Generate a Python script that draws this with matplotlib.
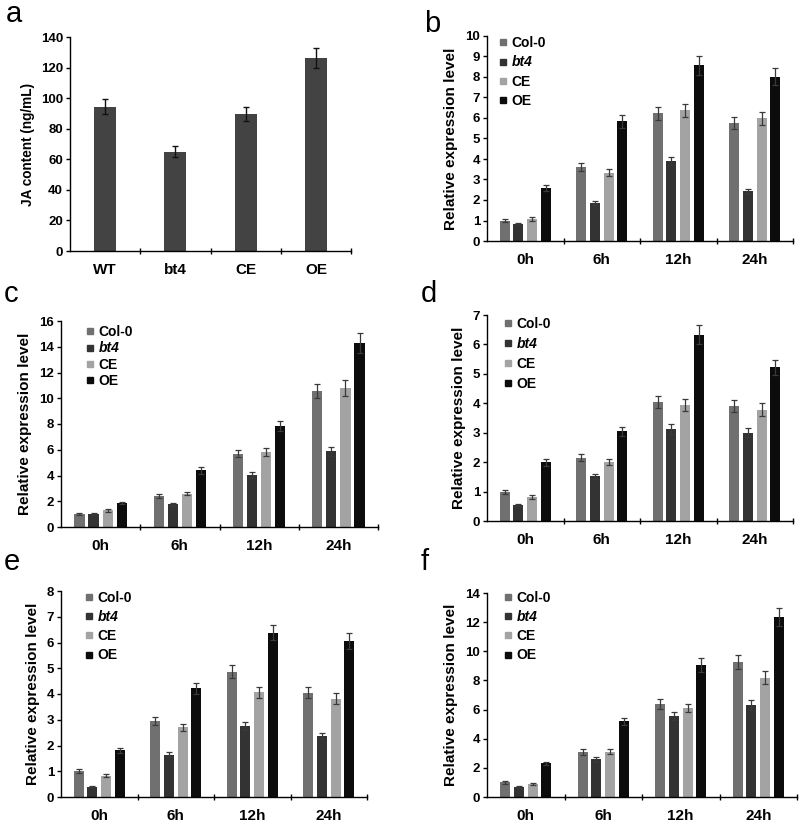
import matplotlib
matplotlib.use("Agg")
import matplotlib.pyplot as plt
import numpy as np
from matplotlib.lines import Line2D

plt.rcParams['font.family'] = ['Liberation Sans', 'DejaVu Sans']
plt.rcParams['font.weight'] = 'bold'

# ---- data ----
ja_labels = ["WT", "bt4", "CE", "OE"]
ja_values = [94.5, 65, 89.5, 126]
ja_errors = [5, 3.5, 4.5, 6.5]

timepoints = ["0h", "6h", "12h", "24h"]
genotypes = ["Col-0", "bt4", "CE", "OE"]

b_vals = [[1.0, 3.62, 6.22, 5.75], [0.82, 1.85, 3.9, 2.43], [1.08, 3.33, 6.37, 5.98], [2.6, 5.83, 8.57, 8.02]]
b_errs = [[0.08, 0.2, 0.33, 0.28], [0.05, 0.1, 0.2, 0.12], [0.08, 0.18, 0.33, 0.33], [0.15, 0.3, 0.45, 0.4]]

c_vals = [[1.0, 2.4, 5.7, 10.55], [1.0, 1.75, 4.05, 5.9], [1.3, 2.6, 5.85, 10.8], [1.85, 4.4, 7.85, 14.3]]
c_errs = [[0.07, 0.15, 0.3, 0.55], [0.07, 0.12, 0.25, 0.35], [0.12, 0.15, 0.3, 0.6], [0.1, 0.25, 0.4, 0.75]]

d_vals = [[1.0, 2.15, 4.05, 3.9], [0.55, 1.52, 3.12, 3.0], [0.82, 2.0, 3.95, 3.78], [2.0, 3.05, 6.33, 5.22]]
d_errs = [[0.07, 0.12, 0.2, 0.2], [0.03, 0.08, 0.17, 0.15], [0.06, 0.1, 0.2, 0.22], [0.12, 0.15, 0.32, 0.25]]

e_vals = [[1.0, 2.95, 4.87, 4.05], [0.4, 1.65, 2.77, 2.38], [0.83, 2.7, 4.07, 3.82], [1.82, 4.22, 6.38, 6.05]]
e_errs = [[0.07, 0.15, 0.25, 0.22], [0.03, 0.1, 0.15, 0.12], [0.05, 0.13, 0.22, 0.22], [0.1, 0.22, 0.3, 0.3]]

f_vals = [[1.0, 3.1, 6.4, 9.25], [0.68, 2.6, 5.55, 6.3], [0.9, 3.1, 6.1, 8.2], [2.3, 5.2, 9.05, 12.35]]
f_errs = [[0.08, 0.2, 0.33, 0.48], [0.06, 0.17, 0.25, 0.35], [0.06, 0.18, 0.3, 0.43], [0.12, 0.25, 0.5, 0.6]]

colors = ["#707070", "#333333", "#a3a3a3", "#0c0c0c"]

W, H = 800, 823
fig = plt.figure(figsize=(8, 8.23), dpi=100)


def add_ax(left, right, top, bottom):
    return fig.add_axes([left / W, (H - bottom) / H, (right - left) / W, (bottom - top) / H])


def style(ax, ymax, ystep, xsize=11):
    ax.spines['top'].set_visible(False)
    ax.spines['right'].set_visible(False)
    ax.spines['left'].set_linewidth(1.0)
    ax.spines['bottom'].set_linewidth(1.0)
    ax.set_xlim(-0.5, 3.5)
    ax.set_ylim(0, ymax)
    ax.set_yticks(np.arange(0, ymax + 0.001, ystep))
    ax.set_xticks(range(4))
    ax.tick_params(axis='x', which='major', length=0, pad=9, labelsize=xsize)
    ax.set_xticks([0.5, 1.5, 2.5, 3.5], minor=True)
    ax.tick_params(axis='x', which='minor', length=4, direction='inout', width=1)
    ax.tick_params(axis='y', length=3, width=1, labelsize=9.5, pad=2)
    for t in ax.get_yticklabels() + ax.get_xticklabels():
        t.set_fontweight('bold')


def panel_letter(letter, x, baseline):
    fig.text(x / W, 1 - baseline / H, letter, fontsize=21, fontweight='normal', va='baseline', ha='left')


# ---- panel a ----
ax = add_ax(70, 351, 37, 251)
x = np.arange(4)
ax.bar(x, ja_values, width=0.31, color="#434343", zorder=2)
ax.errorbar(x, ja_values, yerr=ja_errors, fmt='none', ecolor='#111111', elinewidth=1.0, capsize=2.5, capthick=1.0, zorder=3)
style(ax, 140, 20, xsize=11)
ax.set_xticklabels(ja_labels)
ax.set_ylabel("JA content (ng/mL)", fontsize=9.8, fontweight='bold', labelpad=4)
panel_letter("a", 6, 22)

# letter, values, errors, ymax, ystep, axes box (l, r, t, b), letter (x, baseline),
# legend (left px, top px, labelspacing)
panels = [
    ("b", b_vals, b_errs, 10, 1, (487, 793, 36, 241), (424, 32), (499, 36, 0.39)),
    ("c", c_vals, c_errs, 16, 2, (61, 378, 321, 527), (4, 302), (86, 325, 0.17)),
    ("d", d_vals, d_errs, 7, 1, (487, 793, 315, 521), (421, 302), (504, 317, 0.42)),
    ("e", e_vals, e_errs, 8, 1, (61, 367, 591, 797), (4, 570), (85, 591, 0.37)),
    ("f", f_vals, f_errs, 14, 2, (487, 797, 593, 797), (421, 570), (504, 591, 0.37)),
]

bw = 0.13
step = 0.178
for letter, vals, errs, ymax, ystep, box, lpos, lg in panels:
    ax = add_ax(*box)
    for i in range(4):
        xs = np.arange(4) + (i - 1.5) * step
        ax.bar(xs, vals[i], width=bw, color=colors[i], zorder=2)
        ax.errorbar(xs, vals[i], yerr=errs[i], fmt='none', ecolor='#3a3a3a', elinewidth=0.9,
                    capsize=2, capthick=0.9, zorder=3)
    style(ax, ymax, ystep)
    ax.set_xticklabels(timepoints)
    ax.set_ylabel("Relative expression level", fontsize=11, fontweight='bold', labelpad=5)
    handles = [Line2D([], [], marker='s', linestyle='none', color=colors[i], markersize=5) for i in range(4)]
    l, r, t, b = box
    ax_x = (lg[0] - l) / (r - l)
    ax_y = (b - lg[1]) / (b - t)
    leg = ax.legend(handles, genotypes, loc='upper left', bbox_to_anchor=(ax_x, ax_y), frameon=False,
                    handlelength=0.6, handletextpad=0.3, labelspacing=lg[2], borderaxespad=0, borderpad=0,
                    prop={'size': 10, 'weight': 'bold'})
    leg.get_texts()[1].set_fontstyle('italic')
    panel_letter(letter, *lpos)

fig.savefig("out.png", dpi=100, facecolor='white')
